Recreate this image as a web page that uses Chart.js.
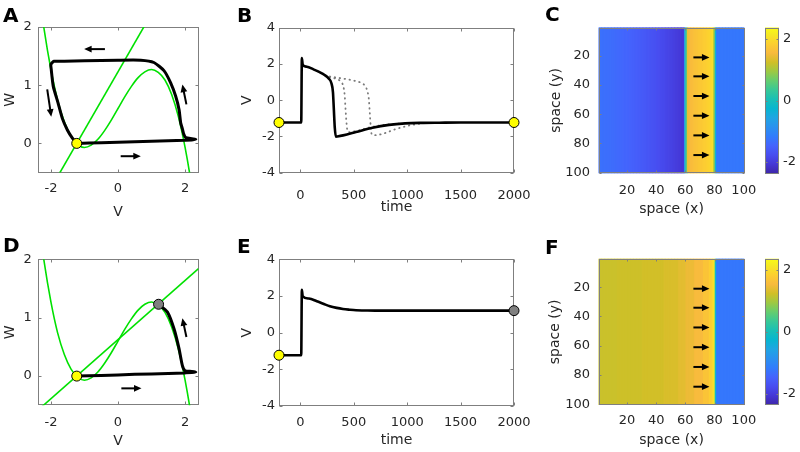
<!DOCTYPE html>
<html>
<head>
<meta charset="utf-8">
<script src="https://cdn.jsdelivr.net/npm/chart.js@4.4.1/dist/chart.umd.min.js"></script>
<style>
html, body { margin: 0; padding: 0; background: #fff; }
#fig { position: relative; width: 800px; height: 452px; overflow: hidden; }
#fig canvas { position: absolute; }
.lbl { position: absolute; font: bold 20px "DejaVu Sans", sans-serif; line-height: 20px; color: #000; }
</style>
</head>
<body>
<div id="fig">
  <canvas id="cA" width="230" height="226" style="left:0;top:0"></canvas>
  <canvas id="cB" width="300" height="226" style="left:230px;top:0"></canvas>
  <canvas id="cC" width="230" height="226" style="left:530px;top:0"></canvas>
  <canvas id="cCbar" width="40" height="226" style="left:760px;top:0"></canvas>
  <canvas id="cD" width="230" height="226" style="left:0;top:226px"></canvas>
  <canvas id="cE" width="300" height="226" style="left:230px;top:226px"></canvas>
  <canvas id="cF" width="230" height="226" style="left:530px;top:226px"></canvas>
  <canvas id="cFbar" width="40" height="226" style="left:760px;top:226px"></canvas>
  <div class="lbl" style="left:3px;top:5px">A</div>
  <div class="lbl" style="left:237px;top:5px">B</div>
  <div class="lbl" style="left:545px;top:4px">C</div>
  <div class="lbl" style="left:3px;top:235px">D</div>
  <div class="lbl" style="left:237px;top:236px">E</div>
  <div class="lbl" style="left:545px;top:237px">F</div>
</div>
<script>
// ---- phase planes (A, D) ----
const cubicV = [-2.4, -2.2, -2.0, -1.8, -1.6, -1.4, -1.2, -1.0, -0.8, -0.6, -0.4, -0.2, 0, 0.2, 0.4, 0.6, 0.8, 1.0, 1.2, 1.4, 1.6, 1.8, 2.0, 2.2, 2.4];
const cubicW = [2.81, 1.95, 1.27, 0.74, 0.37, 0.12, -0.02, -0.07, -0.03, 0.07, 0.22, 0.40, 0.60, 0.80, 0.98, 1.13, 1.23, 1.27, 1.22, 1.09, 0.84, 0.46, -0.07, -0.75, -1.61];
const lineA_V = [-2.4, 2.4];
const lineA_W = [-1.17, 3.63];
const lineD_V = [-2.4, 2.4];
const lineD_W = [-0.59, 1.84];
const trajA_V = [-1.23, -0.5, 0.5, 1.5, 2.0, 2.2, 2.32, 2.2, 2.02, 1.96, 1.92, 1.87, 1.82, 1.72, 1.57, 1.37, 1.07, 0.68, 0, -1.0, -1.6, -1.91, -2.0, -1.99, -1.93, -1.79, -1.66, -1.51, -1.36, -1.23];
const trajA_W = [0, 0.01, 0.03, 0.045, 0.055, 0.06, 0.07, 0.08, 0.1, 0.16, 0.25, 0.35, 0.58, 0.81, 1.04, 1.25, 1.39, 1.43, 1.43, 1.42, 1.41, 1.41, 1.36, 1.27, 0.98, 0.70, 0.43, 0.23, 0.09, 0];
const trajD_V = [-1.23, -0.5, 0.5, 1.5, 2.0, 2.2, 2.32, 2.2, 2.0, 1.92, 1.82, 1.67, 1.47, 1.21];
const trajD_W = [0, 0.01, 0.03, 0.045, 0.055, 0.06, 0.07, 0.08, 0.09, 0.18, 0.47, 0.81, 1.10, 1.23];
const restV = -1.23, restW = 0;
const upV = 1.21, upW = 1.23;
// arrows as [from V, from W, to V, to W]
const arrowsA = [[-0.39, 1.62, -1.01, 1.62], [-2.11, 0.93, -1.99, 0.46], [2.04, 0.67, 1.92, 1.01], [0.08, -0.22, 0.68, -0.22]];
const arrowsD = [[2.04, 0.67, 1.92, 0.99], [0.1, -0.21, 0.7, -0.21]];

// ---- time courses (B, E) ----
const tB = [-200, 8, 14, 22, 60, 123, 180, 230, 265, 290, 305, 313, 322, 332, 345, 400, 520, 675, 830, 980, 1150, 1300, 1500, 2000];
const vB = [-1.23, -1.23, 2.33, 1.96, 1.85, 1.70, 1.55, 1.38, 1.20, 0.95, 0.45, -0.45, -1.50, -2.01, -2.00, -1.94, -1.76, -1.52, -1.36, -1.28, -1.25, -1.24, -1.23, -1.23];
const tDot1 = [230, 265, 300, 337, 370, 395, 408, 416, 422, 430, 438, 450, 520, 650, 800, 950];
const vDot1 = [1.38, 1.28, 1.23, 1.18, 1.08, 0.90, 0.60, 0.20, -0.40, -1.10, -1.60, -1.76, -1.70, -1.50, -1.35, -1.28];
const tDot2 = [230, 280, 340, 400, 450, 500, 540, 580, 610, 630, 642, 650, 658, 668, 700, 740, 800, 880, 960, 1050, 1150];
const vDot2 = [1.38, 1.30, 1.25, 1.19, 1.14, 1.08, 1.02, 0.93, 0.75, 0.45, 0.00, -0.70, -1.40, -1.88, -1.93, -1.90, -1.80, -1.62, -1.48, -1.36, -1.28];
const tE = [-200, 8, 14, 22, 80, 154, 220, 276, 340, 398, 460, 521, 600, 700, 2000];
const vE = [-1.23, -1.23, 2.33, 1.98, 1.86, 1.71, 1.56, 1.44, 1.35, 1.29, 1.25, 1.22, 1.21, 1.20, 1.20];

// ---- space maps (C, F): one value per column x = 1..100 ----
const colX = Array.from({ length: 100 }, (_, i) => i + 1);
const cVals = [
  -1.30, -1.30, -1.31, -1.31, -1.32, -1.32, -1.33, -1.34, -1.34, -1.35,
  -1.36, -1.37, -1.38, -1.39, -1.40, -1.41, -1.42, -1.43, -1.44, -1.45,
  -1.46, -1.47, -1.49, -1.50, -1.51, -1.52, -1.54, -1.55, -1.56, -1.58,
  -1.59, -1.61, -1.62, -1.64, -1.65, -1.67, -1.68, -1.70, -1.71, -1.73,
  -1.75, -1.76, -1.78, -1.80, -1.81, -1.83, -1.85, -1.87, -1.88, -1.90,
  -1.92, -1.94, -1.96, -1.98, -2.00, -2.02, -2.04, -2.06, -2.05, -0.60,
  0.50, 1.45, 1.52, 1.56, 1.59, 1.62, 1.65, 1.67, 1.70, 1.72,
  1.74, 1.77, 1.79, 1.81, 1.84, 1.87, 1.90, 1.95, 2.02, 1.00,
  -0.30, -1.22, -1.22, -1.22, -1.22, -1.22, -1.22, -1.22, -1.22, -1.22,
  -1.22, -1.22, -1.22, -1.22, -1.22, -1.22, -1.22, -1.22, -1.22, -1.22];
const fVals = [
  1.20, 1.20, 1.20, 1.20, 1.20, 1.20, 1.20, 1.20, 1.20, 1.20,
  1.20, 1.20, 1.20, 1.22, 1.22, 1.22, 1.22, 1.22, 1.22, 1.22,
  1.22, 1.22, 1.22, 1.22, 1.22, 1.22, 1.22, 1.22, 1.22, 1.22,
  1.25, 1.25, 1.25, 1.25, 1.25, 1.25, 1.25, 1.25, 1.25, 1.25,
  1.25, 1.25, 1.25, 1.25, 1.25, 1.30, 1.30, 1.30, 1.30, 1.30,
  1.30, 1.30, 1.30, 1.30, 1.30, 1.38, 1.38, 1.38, 1.38, 1.38,
  1.46, 1.46, 1.46, 1.46, 1.46, 1.46, 1.55, 1.55, 1.55, 1.55,
  1.55, 1.55, 1.68, 1.68, 1.68, 1.68, 1.82, 1.82, 1.95, 2.10,
  -0.20, -1.22, -1.22, -1.22, -1.22, -1.22, -1.22, -1.22, -1.22, -1.22,
  -1.22, -1.22, -1.22, -1.22, -1.22, -1.22, -1.22, -1.22, -1.22, -1.22];
const waveArrowY = [21, 34, 47.5, 61, 74.5, 88];
const waveArrowX = [65.5, 76.5];
const climLo = -2.37, climHi = 2.37;

// parula, every 4th entry of the 64 colour table
const parulaIdx = [1, 5, 9, 13, 17, 21, 25, 29, 33, 37, 41, 45, 49, 53, 57, 61, 64];
const parulaRGB = [
  [0.2422, 0.1504, 0.6603], [0.2706, 0.2147, 0.8364], [0.2813, 0.3006, 0.9414], [0.2699, 0.3892, 0.9906],
  [0.1963, 0.4847, 0.9892], [0.1687, 0.5703, 0.9359], [0.1248, 0.6459, 0.8883], [0.0297, 0.7082, 0.8163],
  [0.0964, 0.7500, 0.7120], [0.2161, 0.7843, 0.5923], [0.3909, 0.8029, 0.4354], [0.6174, 0.7876, 0.2612],
  [0.8203, 0.7498, 0.1535], [0.9728, 0.7298, 0.2394], [0.9892, 0.8136, 0.1885], [0.9597, 0.9135, 0.1423],
  [0.9769, 0.9839, 0.0805]];
const parulaPos = parulaIdx.map(i => (i - 1) / 63);

const INK = '#262626';
const BOX = '#7f7f7f';
const GREEN = 'rgb(0,225,0)';
const YELLOW = '#ffff00';
const GREY = '#808080';

Chart.defaults.font.family = "'DejaVu Sans', sans-serif";
Chart.defaults.font.size = 13;
Chart.defaults.color = INK;

function parulaColor(v) {
  let t = (v - climLo) / (climHi - climLo);
  t = Math.min(1, Math.max(0, t));
  let k = 0;
  while (k < parulaPos.length - 2 && t > parulaPos[k + 1]) k++;
  const f = (t - parulaPos[k]) / (parulaPos[k + 1] - parulaPos[k]);
  const c = parulaRGB[k].map((a, j) => Math.round(255 * (a + f * (parulaRGB[k + 1][j] - a))));
  return `rgb(${c.join(',')})`;
}

function linAxis(pos, min, max, ticks, size, tickPad, title, titlePad, reverse) {
  const bottom = pos === 'bottom';
  return {
    type: 'linear', position: pos, min, max, reverse: !!reverse, offset: false,
    grid: { display: false, drawTicks: false },
    border: { display: false },
    ticks: { padding: tickPad, autoSkip: false, maxRotation: 0, color: INK, callback: v => String(v) },
    title: {
      display: !!title, text: title, color: INK, font: { size: 14 },
      padding: bottom ? { top: 0, bottom: titlePad } : { top: titlePad, bottom: 0 },
    },
    afterBuildTicks: s => { s.ticks = ticks.map(v => ({ value: v })); },
    afterFit: s => {
      if (bottom) s.height = size; else s.width = size;
      s.paddingLeft = s.paddingRight = s.paddingTop = s.paddingBottom = 0;
    },
  };
}

function base(pad) {
  return {
    responsive: false, animation: false, devicePixelRatio: 1, events: [],
    layout: { padding: Object.assign({ left: 0, top: 0, right: 0, bottom: 0 }, pad), autoPadding: false },
    plugins: { legend: { display: false }, tooltip: { enabled: false } },
  };
}

const pts = (xs, ys) => xs.map((x, i) => ({ x, y: ys[i] }));

function curve(xs, ys, color, width, extra) {
  return Object.assign({
    data: pts(xs, ys), showLine: true, borderColor: color, borderWidth: width,
    pointRadius: 0, fill: false, tension: 0,
  }, extra);
}

function dot(x, y, color) {
  return {
    data: [{ x, y }], showLine: false, pointRadius: 5, pointBackgroundColor: color,
    pointBorderColor: '#000', pointBorderWidth: 1, clip: false,
  };
}

// axes box with inward ticks on all four sides
function boxPlugin(len, above) {
  const draw = chart => {
    const { ctx, chartArea: a } = chart;
    const L = Math.round(a.left) + 0.5, R = Math.round(a.right) - 0.5;
    const T = Math.round(a.top) + 0.5, B = Math.round(a.bottom) - 0.5;
    ctx.save();
    ctx.strokeStyle = BOX;
    ctx.lineWidth = 1;
    ctx.beginPath();
    for (const id of ['x', 'y']) {
      const s = chart.scales[id];
      if (!s || !s.options.display) continue;
      for (const t of s.ticks) {
        const p = Math.round(s.getPixelForValue(t.value)) + 0.5;
        if (id === 'x') {
          ctx.moveTo(p, B); ctx.lineTo(p, B - len);
          ctx.moveTo(p, T); ctx.lineTo(p, T + len);
        } else {
          ctx.moveTo(L, p); ctx.lineTo(L + len, p);
          ctx.moveTo(R, p); ctx.lineTo(R - len, p);
        }
      }
    }
    ctx.stroke();
    ctx.strokeRect(L, T, R - L, B - T);
    ctx.restore();
  };
  return above ? { id: 'box', afterDatasetsDraw: draw } : { id: 'box', beforeDatasetsDraw: draw };
}

function arrowPlugin(list) {
  return {
    id: 'arrows',
    afterDatasetsDraw(chart) {
      const { ctx } = chart;
      const sx = chart.scales.x, sy = chart.scales.y;
      const head = 7.5, half = 3.4;
      ctx.save();
      ctx.fillStyle = ctx.strokeStyle = '#000';
      ctx.lineWidth = 2;
      for (const [x0, y0, x1, y1] of list) {
        const ax = sx.getPixelForValue(x0), ay = sy.getPixelForValue(y0);
        const bx = sx.getPixelForValue(x1), by = sy.getPixelForValue(y1);
        const ang = Math.atan2(by - ay, bx - ax);
        const hx = bx - head * Math.cos(ang), hy = by - head * Math.sin(ang);
        ctx.beginPath();
        ctx.moveTo(ax, ay);
        ctx.lineTo(hx + Math.cos(ang), hy + Math.sin(ang));
        ctx.stroke();
        ctx.beginPath();
        ctx.moveTo(bx, by);
        ctx.lineTo(hx + half * Math.sin(ang), hy - half * Math.cos(ang));
        ctx.lineTo(hx - half * Math.sin(ang), hy + half * Math.cos(ang));
        ctx.closePath();
        ctx.fill();
      }
      ctx.restore();
    },
  };
}

const gradPlugin = {
  id: 'grad',
  beforeDatasetsDraw(chart) {
    const { ctx, chartArea: a } = chart;
    const g = ctx.createLinearGradient(0, a.bottom, 0, a.top);
    parulaRGB.forEach((c, i) => g.addColorStop(parulaPos[i], `rgb(${c.map(v => Math.round(v * 255)).join(',')})`));
    ctx.save();
    ctx.fillStyle = g;
    ctx.fillRect(a.left, a.top, a.right - a.left, a.bottom - a.top);
    ctx.restore();
  },
};

function phaseChart(id, pad, xSize, xPad, xTitlePad, datasets, arrows) {
  return new Chart(document.getElementById(id), {
    type: 'scatter',
    data: { datasets },
    options: Object.assign(base(pad), {
      scales: {
        x: linAxis('bottom', -2.4, 2.4, [-2, 0, 2], xSize, xPad, 'V', xTitlePad),
        y: linAxis('left', -0.5, 2, [0, 1, 2], 37.5, 5.8, 'W', 1.6),
      },
    }),
    plugins: [boxPlugin(3, false), arrowPlugin(arrows)],
  });
}

function timeChart(id, pad, xSize, xPad, xTitlePad, datasets) {
  return new Chart(document.getElementById(id), {
    type: 'scatter',
    data: { datasets },
    options: Object.assign(base(pad), {
      scales: {
        x: linAxis('bottom', -200, 2000, [0, 500, 1000, 1500, 2000], xSize, xPad, 'time', xTitlePad),
        y: linAxis('left', -4, 4, [-4, -2, 0, 2, 4], 49, 4, 'V', 9.1),
      },
    }),
    plugins: [boxPlugin(3, false)],
  });
}

function heatChart(id, vals, pad, xSize, xPad, xTitlePad, yTitlePad) {
  const gridTicks = [20, 40, 60, 80, 100];
  const arrows = waveArrowY.map(y => [waveArrowX[0], y, waveArrowX[1], y]);
  return new Chart(document.getElementById(id), {
    type: 'bar',
    data: {
      datasets: [{
        data: vals.map((v, i) => ({ x: colX[i], y: [0.5, 100.5] })),
        backgroundColor: vals.map(parulaColor),
        borderWidth: 0, barPercentage: 1, categoryPercentage: 1, grouped: false,
        inflateAmount: 0.6,
      }],
    },
    options: Object.assign(base(pad), {
      scales: {
        x: linAxis('bottom', 0.5, 100.5, gridTicks, xSize, xPad, 'space (x)', xTitlePad),
        y: linAxis('left', 0.5, 100.5, gridTicks, 68.5, 8.5, 'space (y)', yTitlePad, true),
      },
    }),
    plugins: [boxPlugin(2, true), arrowPlugin(arrows)],
  });
}

function colorbar(id, pad) {
  return new Chart(document.getElementById(id), {
    type: 'scatter',
    data: { datasets: [] },
    options: Object.assign(base(pad), {
      scales: {
        x: { type: 'linear', display: false, min: 0, max: 1 },
        y: linAxis('right', climLo, climHi, [-2, 0, 2], 21, 4, '', 0),
      },
    }),
    plugins: [gradPlugin, boxPlugin(2, true)],
  });
}

phaseChart('cA', { top: 27, right: 31.5 }, 53.5, 8.7, 5.6, [
  dot(restV, restW, YELLOW),
  curve(trajA_V, trajA_W, '#000', 3, { tension: 0.2 }),
  curve(cubicV, cubicW, GREEN, 1.6, { cubicInterpolationMode: 'monotone' }),
  curve(lineA_V, lineA_W, GREEN, 1.6),
], arrowsA);

phaseChart('cD', { top: 33.3, right: 31.5 }, 46.7, 9.6, 2.6, [
  dot(restV, restW, YELLOW),
  dot(upV, upW, GREY),
  curve(trajD_V, trajD_W, '#000', 3, { tension: 0.2 }),
  curve(cubicV, cubicW, GREEN, 1.6, { cubicInterpolationMode: 'monotone' }),
  curve(lineD_V, lineD_W, GREEN, 1.6),
], arrowsD);

const dotted = { borderDash: [0.5, 4.5], borderCapStyle: 'round', cubicInterpolationMode: 'monotone' };

timeChart('cB', { top: 27.7, right: 16 }, 53.3, 15.5, 10.6, [
  dot(-200, restV, YELLOW),
  dot(2000, restV, YELLOW),
  curve(tB, vB, '#000', 2.6, { cubicInterpolationMode: 'monotone' }),
  curve(tDot1, vDot1, '#7a7a7a', 1.8, dotted),
  curve(tDot2, vDot2, '#7a7a7a', 1.8, dotted),
]);

timeChart('cE', { top: 33.3, right: 16 }, 46, 8.9, 3.6, [
  dot(-200, restV, YELLOW),
  dot(2000, 1.2, GREY),
  curve(tE, vE, '#000', 2.6, { cubicInterpolationMode: 'monotone' }),
]);

heatChart('cC', cVals, { top: 27.5, right: 15.5 }, 52.7, 9.4, 8.6, 18.1);
heatChart('cF', fVals, { top: 32.7, right: 15.5 }, 47, 8.2, 3.6, 17.1);
colorbar('cCbar', { left: 5, top: 27.5, bottom: 52.5 });
colorbar('cFbar', { left: 5, top: 32.7, bottom: 47 });
</script>
</body>
</html>
